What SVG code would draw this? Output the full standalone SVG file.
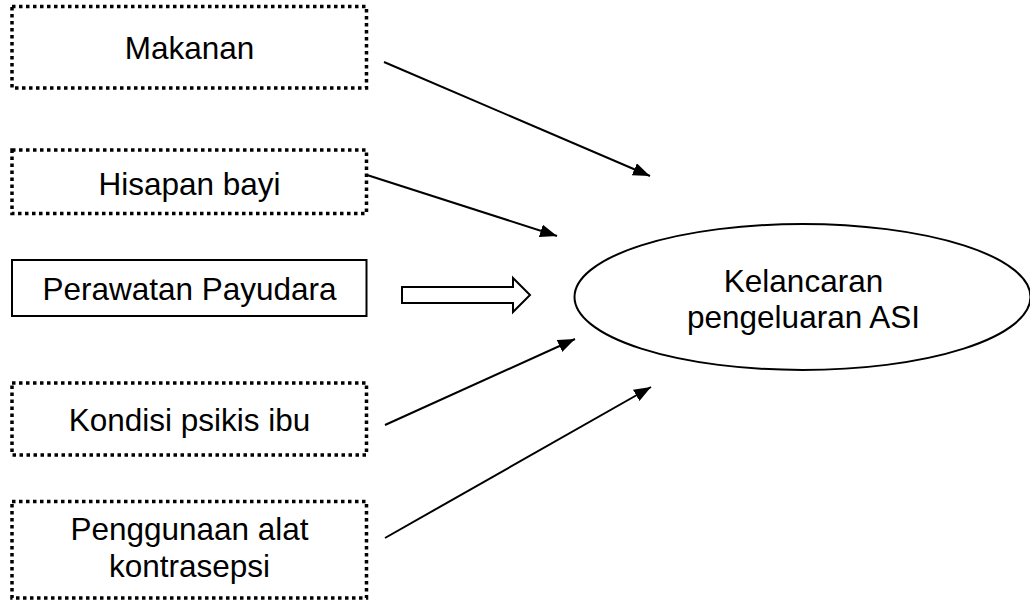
<svg xmlns="http://www.w3.org/2000/svg" width="1030" height="602" viewBox="0 0 1030 602">
<style>
.dot{fill:none;stroke:#000;stroke-width:3.5;stroke-dasharray:3.5 3.5}
.solid{fill:none;stroke:#000;stroke-width:2}
.t{font-family:"Liberation Sans",Arial,sans-serif;font-size:31.5px;fill:#000;text-anchor:middle}
.ln{stroke:#000;stroke-width:2;fill:none;marker-end:url(#ah)}
</style>
<defs>
<marker id="ah" markerUnits="userSpaceOnUse" markerWidth="17" markerHeight="13" refX="17" refY="6.5" orient="auto">
<path d="M0,0 L17,6.5 L0,13 z" fill="#000"/>
</marker>
</defs>
<rect width="1030" height="602" fill="#fff"/>
<g id="makanan">
<rect class="dot" x="12" y="6.5" width="354.5" height="81.5"/>
<text class="t" x="189.5" y="59">Makanan</text>
</g>
<g id="hisapan">
<rect class="dot" x="12" y="150" width="354.5" height="63.5"/>
<text class="t" x="189.5" y="195">Hisapan bayi</text>
</g>
<g id="perawatan">
<rect class="solid" x="12" y="260" width="354.5" height="56"/>
<text class="t" x="189.5" y="300">Perawatan Payudara</text>
</g>
<g id="kondisi">
<rect class="dot" x="12" y="383" width="354.5" height="72"/>
<text class="t" x="189.5" y="430.5">Kondisi psikis ibu</text>
</g>
<g id="kontrasepsi">
<rect class="dot" x="12" y="501.5" width="354.5" height="96.5"/>
<text class="t" x="189.5" y="540">Penggunaan alat</text>
<text class="t" x="189.5" y="577">kontrasepsi</text>
</g>
<g id="kelancaran">
<ellipse class="solid" cx="802.5" cy="297" rx="228" ry="73"/>
<text class="t" x="803.5" y="291.5">Kelancaran</text>
<text class="t" x="803.5" y="328">pengeluaran ASI</text>
</g>
<g id="connectors">
<line class="ln" x1="384" y1="62" x2="650" y2="176"/>
<line class="ln" x1="367" y1="175" x2="557" y2="236"/>
<polygon class="solid" points="402,287 513,287 513,278 530,295 513,312 513,303 402,303"/>
<line class="ln" x1="385" y1="425" x2="575" y2="339"/>
<line class="ln" x1="385" y1="538" x2="651" y2="387"/>
</g>
</svg>
